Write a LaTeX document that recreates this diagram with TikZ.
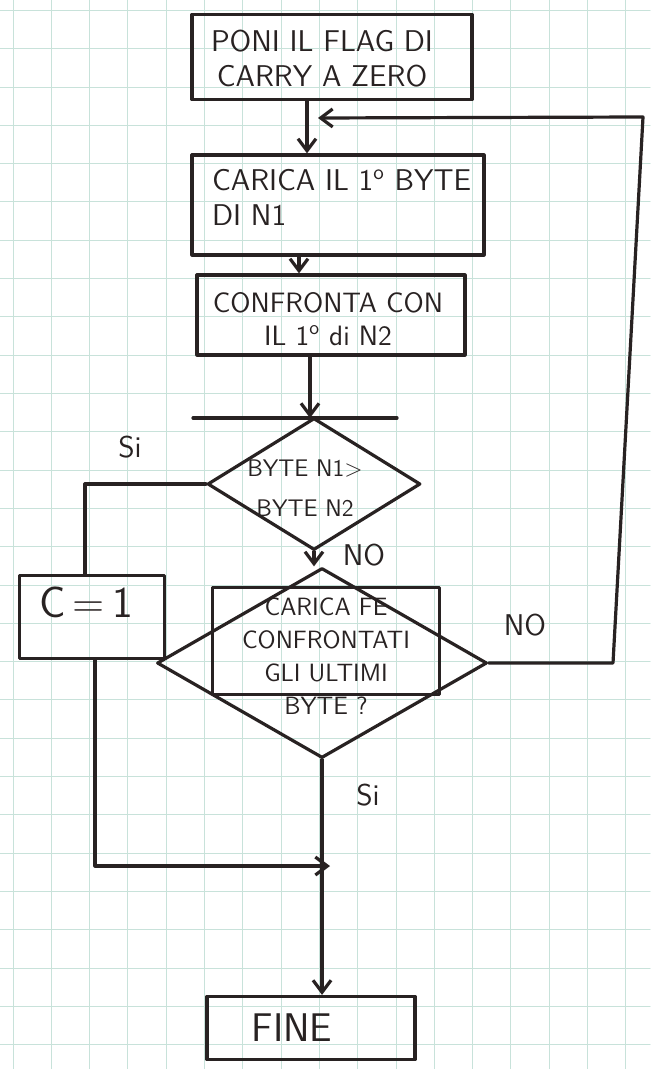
\documentclass[tikz,border=0pt]{standalone}
\usetikzlibrary{arrows.meta, shapes.geometric}

\definecolor{ink}{RGB}{40,34,34}
\definecolor{paper}{RGB}{200,226,218}

\begin{document}
\begin{tikzpicture}[x=0.5pt, y=-0.5pt, >={Straight Barb[length=6pt,width=9pt]},
    line cap=round, line join=round, font=\sffamily]
  \tikzset{
    wire/.style={draw=ink, line width=1.6pt},
    box/.style={wire, rectangle, inner sep=0pt},
    testbox/.style={wire, diamond, inner sep=0pt},
    txt/.style={ink, align=center, font=\sffamily\fontsize{15}{17.5}\selectfont},
    small/.style={ink, align=center, font=\sffamily\fontsize{12}{20}\selectfont},
    answer/.style={ink, font=\sffamily\fontsize{15}{16}\selectfont}
  }

  %% ---- squared paper ----
  \useasboundingbox (0,0) rectangle (650,1069);
  \fill[white] (0,0) rectangle (650,1069);
  \foreach \i in {0,...,16}
    \draw[paper, line width=0.5pt] ({13+38.3*\i},0) -- ({13+38.3*\i},1069);
  \foreach \j in {0,...,27}
    \draw[paper, line width=0.5pt] (0,{10.5+38.3*\j}) -- (650,{10.5+38.3*\j});

  %% ---- blocks ----
  \node[box, minimum width=140pt, minimum height=42.5pt] (start) at (332,57) {};
  \node[txt] (starttext) at (322,59) {PONI IL FLAG DI\\CARRY A ZERO};

  \node[box, minimum width=146pt, minimum height=50pt] (load) at (338,205) {};
  \node[txt, align=left, anchor=west] (loadtext) at (205,197)
    {CARICA IL 1\textsuperscript{o} BYTE\\DI N1};

  \node[box, minimum width=134pt, minimum height=40pt] (cmp) at (331,315) {};
  \node[txt, font=\sffamily\fontsize{14}{16.5}\selectfont] (cmptext) at (328,319)
    {CONFRONTA CON\\IL 1\textsuperscript{o} di N2};

  \node[testbox, minimum width=106.5pt, minimum height=66pt] (test) at (314,484) {};
  \node[small] (testtext) at (305,488) {BYTE N1$>$\\BYTE N2};

  \node[box, minimum width=72.5pt, minimum height=41.5pt] (carry) at (92,617) {};
  \node[ink, font=\sffamily\fontsize{22}{24}\selectfont] (carrytext) at (86,602) {C\,=\,1};

  \node[testbox, minimum width=165pt, minimum height=95pt] (last) at (322,663) {};
  \node[box, minimum width=113.5pt, minimum height=53.5pt] (lastbox) at (326,641) {};
  \node[ink, align=center, font=\sffamily\fontsize{12.5}{16.5}\selectfont] (lasttext) at (326,656)
    {CARICA FE\\CONFRONTATI\\GLI ULTIMI\\BYTE ?};

  \node[box, minimum width=104pt, minimum height=31.5pt] (fine) at (311,1028) {};
  \node[ink, font=\sffamily\fontsize{20}{22}\selectfont] (finetext) at (292,1028) {FINE};

  %% ---- answers ----
  \node[answer] (si1) at (130,447) {Si};
  \node[answer] (no1) at (364,555) {NO};
  \node[answer] (no2) at (525,625) {NO};
  \node[answer] (si2) at (368,795) {Si};

  %% ---- joints ----
  \coordinate (jl) at (193,418);
  \coordinate (jr) at (397,418);
  \coordinate (loopin) at (318,118);
  \coordinate (merge) at (330,866);

  %% ---- connectors ----
  \draw[->, wire] ([xshift=-12.5pt]start.south) -- ([xshift=-12.5pt]start.south |- load.north);
  \draw[->, wire] ([xshift=-19.5pt]load.south) -- ([xshift=-19.5pt]load.south |- cmp.north);
  \draw[->, wire] ([xshift=-10.5pt]cmp.south) -- ([xshift=-10.5pt]cmp.south |- jl);
  \draw[wire] (jl) -- (jr);
  \draw[wire] (test.west) -| ([xshift=-3.5pt]carry.north);
  \draw[->, wire] (test.south) -- (test.south |- last.north);
  \draw[->, wire] (last.east) -- (613,663) -- (643,117) -- (loopin);
  \draw[->, wire] ([xshift=1.5pt]carry.south) |- (merge);
  \draw[->, wire] (last.south) -- (last.south |- fine.north);

\end{tikzpicture}
\end{document}
